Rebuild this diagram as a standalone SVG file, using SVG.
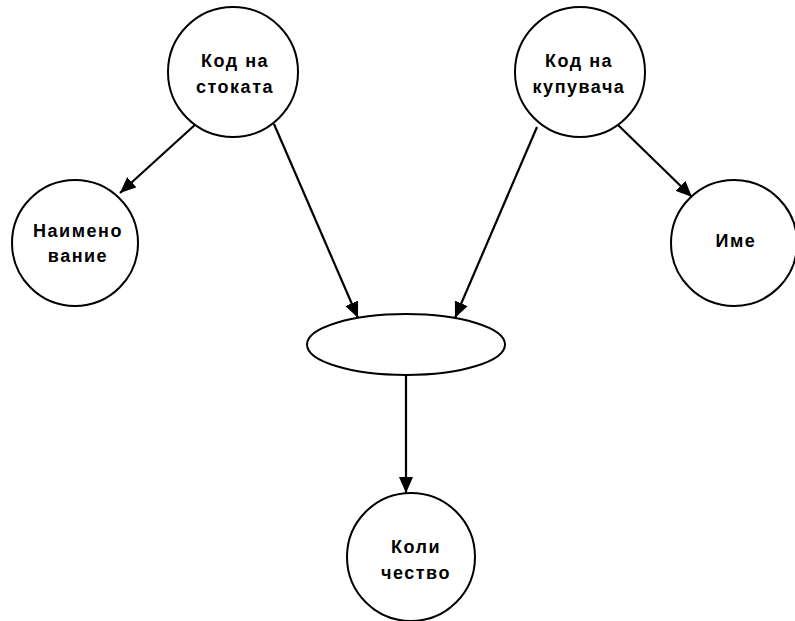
<svg xmlns="http://www.w3.org/2000/svg" width="795" height="621" viewBox="0 0 795 621">
  <style>
    .node { fill: #ffffff; stroke: #000000; stroke-width: 2; }
    .label { font-family: "Liberation Sans", Arial, sans-serif; font-weight: bold; font-size: 18px; fill: #000000; text-anchor: middle; letter-spacing: 1.5px; }
    .edge { stroke: #000000; stroke-width: 2.2; fill: none; marker-end: url(#arrow); }
  </style>
  <defs>
    <marker id="arrow" markerUnits="userSpaceOnUse" markerWidth="16" markerHeight="14" refX="16" refY="7" orient="auto">
      <path d="M0,0 L16,7 L0,14 Z" fill="#000000"/>
    </marker>
  </defs>
  <rect width="795" height="621" fill="#ffffff"/>

  <g id="connectors">
    <line class="edge" x1="197" y1="123" x2="120" y2="193"/>
    <line class="edge" x1="274" y1="124" x2="358" y2="318"/>
    <line class="edge" x1="537" y1="127" x2="455" y2="318"/>
    <line class="edge" x1="617" y1="124" x2="692" y2="197"/>
    <line class="edge" x1="406" y1="375" x2="406" y2="493"/>
  </g>

  <g id="kod-stokata">
    <circle class="node" cx="233" cy="72" r="65"/>
    <text class="label" x="235" y="67">Код на</text>
    <text class="label" x="235" y="93">стоката</text>
  </g>

  <g id="kod-kupuvacha">
    <circle class="node" cx="580" cy="72" r="65"/>
    <text class="label" x="579" y="67">Код на</text>
    <text class="label" x="579" y="93">купувача</text>
  </g>

  <g id="naimenovanie">
    <circle class="node" cx="75" cy="243" r="63"/>
    <text class="label" x="78" y="237">Наимено</text>
    <text class="label" x="78" y="262">вание</text>
  </g>

  <g id="ime">
    <circle class="node" cx="734" cy="243" r="63"/>
    <text class="label" x="736" y="247">Име</text>
  </g>

  <g id="relation">
    <ellipse class="node" cx="406" cy="344.5" rx="99" ry="30.5"/>
  </g>

  <g id="kolichestvo">
    <circle class="node" cx="411" cy="557" r="64"/>
    <text class="label" x="416" y="553">Коли</text>
    <text class="label" x="416" y="579">чество</text>
  </g>
</svg>
